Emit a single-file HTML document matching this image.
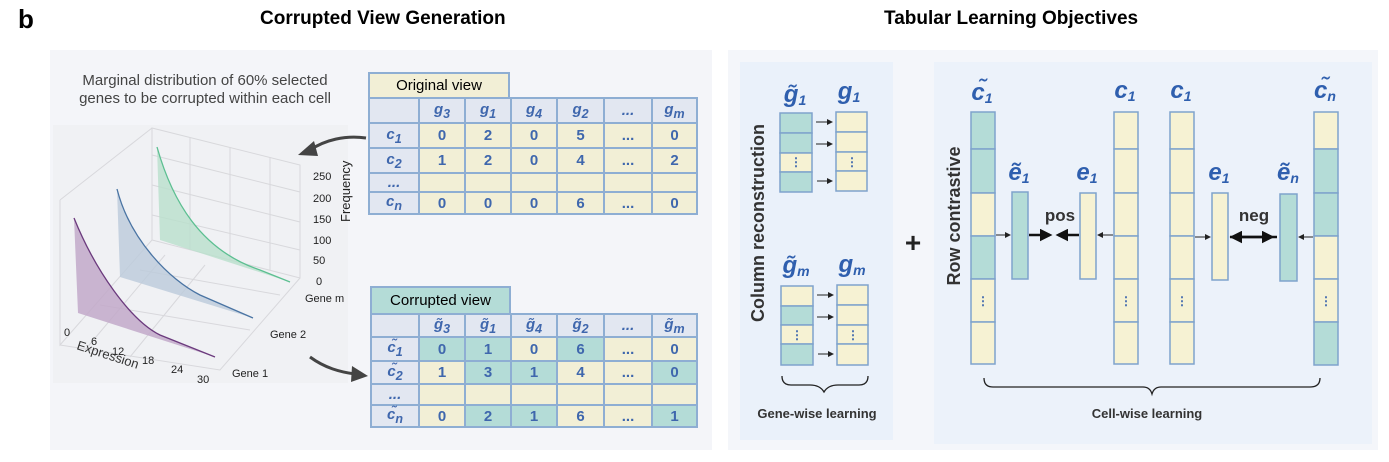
<!DOCTYPE html>
<html><head><meta charset="utf-8"><style>
body{margin:0;width:1389px;height:462px;background:#fff;font-family:"Liberation Sans",sans-serif;position:relative;overflow:hidden}
.a{position:absolute}
table{border-collapse:collapse;position:absolute;table-layout:fixed}
td{border:2px solid #8eaed3;text-align:center;font-weight:bold;color:#3f67ad;font-size:15px;padding:0}
.h{background:#e2e7f1;font-style:italic}
.y{background:#f2efd6}
.t{background:#b4dcd7}
</style></head><body>
<div class="a" style="left:18px;top:4px;font-size:26px;font-weight:bold">b</div>
<div class="a" style="left:260px;top:8px;font-size:19px;font-weight:bold">Corrupted View Generation</div>
<div class="a" style="left:884px;top:8px;font-size:19px;font-weight:bold">Tabular Learning Objectives</div>
<div class="a" style="left:50px;top:50px;width:662px;height:400px;background:#f4f5f9"></div>
<div class="a" style="left:728px;top:50px;width:650px;height:400px;background:#f4f6fa"></div>
<div class="a" style="left:740px;top:62px;width:153px;height:378px;background:#eaf1fa"></div>
<div class="a" style="left:934px;top:62px;width:438px;height:382px;background:#ecf2fa"></div>
<div class="a" style="left:50px;top:72px;width:310px;text-align:center;font-size:15px;color:#444;line-height:18px">Marginal distribution of 60% selected<br>genes to be corrupted within each cell</div>

<svg class="a" style="left:0;top:0" width="712" height="462">
<rect x="53" y="125" width="295" height="258" fill="#f0f1f4"/>
<g stroke="#d8d8dc" stroke-width="1" fill="none">
<path d="M152 128 L300 165 L300 278 L152 240Z M60 200 L152 128 M60 200 L60 345 L152 240"/>
<path d="M190 137 L190 250 M230 147 L230 260 M270 157 L270 270 M152 155 L300 192 M152 185 L300 222 M152 215 L300 250"/>
<path d="M60 345 L220 370 L300 278 M100 305 L250 330 M140 270 L280 295 M85 350 L165 255 M130 357 L205 265"/>
</g>
<path d="M157 147 C172 200,200 250,260 270 L290 282 L160 240Z" fill="#b9e0cc" opacity=".8"/>
<path d="M157 147 C172 200,200 250,260 270 L290 282" stroke="#5cbf91" fill="none" stroke-width="1.3"/>
<path d="M117 189 C130 240,170 280,200 295 L253 318 L120 277Z" fill="#bccadb" opacity=".8"/>
<path d="M117 189 C130 240,170 280,200 295 L253 318" stroke="#4a74a3" fill="none" stroke-width="1.3"/>
<path d="M74 218 C95 270,130 320,160 335 L215 357 L78 313Z" fill="#c2a9c9" opacity=".85"/>
<path d="M74 218 C95 270,130 320,160 335 L215 357" stroke="#6b3a7d" fill="none" stroke-width="1.3"/>
<g font-size="11" fill="#222">
<text x="313" y="180">250</text><text x="313" y="202">200</text><text x="313" y="223">150</text><text x="313" y="244">100</text><text x="313" y="264">50</text><text x="316" y="285">0</text>
<text x="305" y="302">Gene m</text><text x="270" y="338">Gene 2</text><text x="232" y="377">Gene 1</text>
<text x="64" y="336">0</text><text x="91" y="345">6</text><text x="112" y="355">12</text><text x="142" y="364">18</text><text x="171" y="373">24</text><text x="197" y="383">30</text>
<text transform="translate(76 349) rotate(18)" font-size="13" fill="#333">Expression</text>
<text transform="translate(350 222) rotate(-90)" font-size="13">Frequency</text>
</g>
<path d="M366 138 C345 135,325 140,310 150" stroke="#444" stroke-width="3" fill="none"/>
<polygon points="298,155 314,141 318,156" fill="#444"/>
<path d="M310 357 C325 368,340 372,355 374" stroke="#444" stroke-width="3" fill="none"/>
<polygon points="368,376 352,366 351,382" fill="#444"/>
</svg>

<div class="a" style="left:368px;top:72px;width:138px;height:23px;background:#f2efd6;border:2px solid #8eaed3;font-size:15px;text-align:center;line-height:23px">Original view</div>
<table style="left:368px;top:97px;width:328px">
<colgroup><col style="width:50px"><col style="width:46px"><col style="width:46px"><col style="width:46px"><col style="width:47px"><col style="width:48px"><col style="width:45px"></colgroup>
<tr style="height:25px"><td class="h">&nbsp;</td><td class="h">g<sub>3</sub></td><td class="h">g<sub>1</sub></td><td class="h">g<sub>4</sub></td><td class="h">g<sub>2</sub></td><td class="h">...</td><td class="h">g<sub>m</sub></td></tr>
<tr style="height:25px"><td class="h">c<sub>1</sub></td><td class="y">0</td><td class="y">2</td><td class="y">0</td><td class="y">5</td><td class="y">...</td><td class="y">0</td></tr>
<tr style="height:25px"><td class="h">c<sub>2</sub></td><td class="y">1</td><td class="y">2</td><td class="y">0</td><td class="y">4</td><td class="y">...</td><td class="y">2</td></tr>
<tr style="height:19px"><td class="h">...</td><td class="y"></td><td class="y"></td><td class="y"></td><td class="y"></td><td class="y"></td><td class="y"></td></tr>
<tr style="height:21px"><td class="h">c<sub>n</sub></td><td class="y">0</td><td class="y">0</td><td class="y">0</td><td class="y">6</td><td class="y">...</td><td class="y">0</td></tr>
</table>

<div class="a" style="left:370px;top:286px;width:137px;height:25px;background:#b4dcd7;border:2px solid #8eaed3;font-size:15px;text-align:center;line-height:25px">Corrupted view</div>
<table style="left:370px;top:313px;width:326px">
<colgroup><col style="width:48px"><col style="width:46px"><col style="width:46px"><col style="width:46px"><col style="width:47px"><col style="width:48px"><col style="width:45px"></colgroup>
<tr style="height:23px"><td class="h">&nbsp;</td><td class="h">g̃<sub>3</sub></td><td class="h">g̃<sub>1</sub></td><td class="h">g̃<sub>4</sub></td><td class="h">g̃<sub>2</sub></td><td class="h">...</td><td class="h">g̃<sub>m</sub></td></tr>
<tr style="height:24px"><td class="h">c̃<sub>1</sub></td><td class="t">0</td><td class="t">1</td><td class="y">0</td><td class="t">6</td><td class="y">...</td><td class="y">0</td></tr>
<tr style="height:23px"><td class="h">c̃<sub>2</sub></td><td class="y">1</td><td class="t">3</td><td class="t">1</td><td class="y">4</td><td class="y">...</td><td class="t">0</td></tr>
<tr style="height:21px"><td class="h">...</td><td class="y"></td><td class="y"></td><td class="y"></td><td class="y"></td><td class="y"></td><td class="y"></td></tr>
<tr style="height:21px"><td class="h">c̃<sub>n</sub></td><td class="y">0</td><td class="t">2</td><td class="t">1</td><td class="y">6</td><td class="y">...</td><td class="t">1</td></tr>
</table>

<svg class="a" style="left:0;top:0" width="1389" height="462">
<defs>
<marker id="m" markerWidth="6" markerHeight="6" refX="5" refY="3" orient="auto"><path d="M0 0L6 3L0 6Z" fill="#222"/></marker>
<marker id="b" markerWidth="5" markerHeight="5" refX="4" refY="2.5" orient="auto"><path d="M0 0L5 2.5L0 5Z" fill="#111"/></marker>
</defs>
<g stroke="#7fa3cc" stroke-width="1.5">
<rect x="780" y="113" width="32" height="20" fill="#b4dcd7"/><rect x="780" y="133" width="32" height="20" fill="#b4dcd7"/><rect x="780" y="153" width="32" height="19" fill="#f6f2d3"/><rect x="780" y="172" width="32" height="20" fill="#b4dcd7"/>
<rect x="836" y="112" width="31" height="20" fill="#f6f2d3"/><rect x="836" y="132" width="31" height="20" fill="#f6f2d3"/><rect x="836" y="152" width="31" height="19" fill="#f6f2d3"/><rect x="836" y="171" width="31" height="20" fill="#f6f2d3"/>
<rect x="781" y="286" width="32" height="20" fill="#f6f2d3"/><rect x="781" y="306" width="32" height="19" fill="#b4dcd7"/><rect x="781" y="325" width="32" height="19" fill="#f6f2d3"/><rect x="781" y="344" width="32" height="21" fill="#b4dcd7"/>
<rect x="837" y="285" width="31" height="20" fill="#f6f2d3"/><rect x="837" y="305" width="31" height="20" fill="#f6f2d3"/><rect x="837" y="325" width="31" height="19" fill="#f6f2d3"/><rect x="837" y="344" width="31" height="21" fill="#f6f2d3"/>
<rect x="971" y="112" width="24" height="37" fill="#b4dcd7"/><rect x="971" y="149" width="24" height="44" fill="#b4dcd7"/><rect x="971" y="193" width="24" height="43" fill="#f6f2d3"/><rect x="971" y="236" width="24" height="43" fill="#b4dcd7"/><rect x="971" y="279" width="24" height="43" fill="#f6f2d3"/><rect x="971" y="322" width="24" height="42" fill="#f6f2d3"/>
<rect x="1114" y="112" width="24" height="37" fill="#f6f2d3"/><rect x="1114" y="149" width="24" height="44" fill="#f6f2d3"/><rect x="1114" y="193" width="24" height="43" fill="#f6f2d3"/><rect x="1114" y="236" width="24" height="43" fill="#f6f2d3"/><rect x="1114" y="279" width="24" height="43" fill="#f6f2d3"/><rect x="1114" y="322" width="24" height="42" fill="#f6f2d3"/>
<rect x="1170" y="112" width="24" height="37" fill="#f6f2d3"/><rect x="1170" y="149" width="24" height="44" fill="#f6f2d3"/><rect x="1170" y="193" width="24" height="43" fill="#f6f2d3"/><rect x="1170" y="236" width="24" height="43" fill="#f6f2d3"/><rect x="1170" y="279" width="24" height="43" fill="#f6f2d3"/><rect x="1170" y="322" width="24" height="42" fill="#f6f2d3"/>
<rect x="1314" y="112" width="24" height="37" fill="#f6f2d3"/><rect x="1314" y="149" width="24" height="44" fill="#b4dcd7"/><rect x="1314" y="193" width="24" height="43" fill="#b4dcd7"/><rect x="1314" y="236" width="24" height="43" fill="#f6f2d3"/><rect x="1314" y="279" width="24" height="43" fill="#f6f2d3"/><rect x="1314" y="322" width="24" height="43" fill="#b4dcd7"/>
<rect x="1012" y="192" width="16" height="87" fill="#b4dcd7"/>
<rect x="1080" y="193" width="16" height="86" fill="#f6f2d3"/>
<rect x="1212" y="193" width="16" height="87" fill="#f6f2d3"/>
<rect x="1280" y="194" width="17" height="87" fill="#b4dcd7"/>
</g>
<g fill="#3f67ad" font-weight="bold" font-size="12" text-anchor="middle">
<text x="796" y="166">⋮</text><text x="852" y="166">⋮</text><text x="797" y="339">⋮</text><text x="853" y="339">⋮</text>
<text x="983" y="305">⋮</text><text x="1126" y="305">⋮</text><text x="1182" y="305">⋮</text><text x="1326" y="305">⋮</text>
</g>
<g stroke="#222" stroke-width="1" marker-end="url(#m)">
<line x1="816" y1="122" x2="832" y2="122"/><line x1="816" y1="144" x2="832" y2="144"/><line x1="817" y1="181" x2="832" y2="181"/>
<line x1="817" y1="295" x2="833" y2="295"/><line x1="817" y1="317" x2="833" y2="317"/><line x1="818" y1="354" x2="833" y2="354"/>
<line x1="996" y1="235" x2="1010" y2="235"/><line x1="1113" y1="235" x2="1098" y2="235"/>
<line x1="1195" y1="237" x2="1210" y2="237"/><line x1="1313" y1="237" x2="1299" y2="237"/>
</g>
<g stroke="#111" stroke-width="2.5">
<line x1="1029" y1="235" x2="1050" y2="235" marker-end="url(#b)"/>
<line x1="1079" y1="235" x2="1058" y2="235" marker-end="url(#b)"/>
<line x1="1240" y1="237" x2="1232" y2="237" marker-end="url(#b)"/>
<line x1="1240" y1="237" x2="1272" y2="237" marker-end="url(#b)"/>
</g>
<line x1="1230" y1="237" x2="1277" y2="237" stroke="#111" stroke-width="2.5"/>
<g fill="none" stroke="#222" stroke-width="1.3">
<path d="M782 376 Q782 385 791 385 L810 385 Q820 385 824 392 Q828 385 838 385 L859 385 Q868 385 868 376"/>
<path d="M984 378 Q984 387 993 387 L1143 387 Q1150 387 1152 394 Q1154 387 1161 387 L1310 387 Q1320 387 1320 378"/>
</g>
<g font-weight="bold" fill="#333">
<text x="1060" y="221" text-anchor="middle" font-size="17">pos</text>
<text x="1254" y="221" text-anchor="middle" font-size="17">neg</text>
<text x="913" y="252" text-anchor="middle" font-size="28" fill="#222">+</text>
<text x="817" y="418" text-anchor="middle" font-size="13">Gene-wise learning</text>
<text x="1147" y="418" text-anchor="middle" font-size="13">Cell-wise learning</text>
<text transform="translate(764 223) rotate(-90)" text-anchor="middle" font-size="18">Column reconstruction</text>
<text transform="translate(960 216) rotate(-90)" text-anchor="middle" font-size="18">Row contrastive</text>
</g>
<g font-weight="bold" font-style="italic" fill="#2f5fae" font-size="24" text-anchor="middle">
<text x="795" y="102">g̃<tspan font-size="14" dy="3">1</tspan></text>
<text x="849" y="99">g<tspan font-size="14" dy="3">1</tspan></text>
<text x="796" y="273">g̃<tspan font-size="14" dy="3">m</tspan></text>
<text x="852" y="272">g<tspan font-size="14" dy="3">m</tspan></text>
<text x="982" y="100">c̃<tspan font-size="14" dy="3">1</tspan></text>
<text x="1125" y="98">c<tspan font-size="14" dy="3">1</tspan></text>
<text x="1181" y="98">c<tspan font-size="14" dy="3">1</tspan></text>
<text x="1325" y="98">c̃<tspan font-size="14" dy="3">n</tspan></text>
<text x="1019" y="180">ẽ<tspan font-size="14" dy="3">1</tspan></text>
<text x="1087" y="180">e<tspan font-size="14" dy="3">1</tspan></text>
<text x="1219" y="180">e<tspan font-size="14" dy="3">1</tspan></text>
<text x="1288" y="180">ẽ<tspan font-size="14" dy="3">n</tspan></text>
</g>
</svg>
</body></html>
